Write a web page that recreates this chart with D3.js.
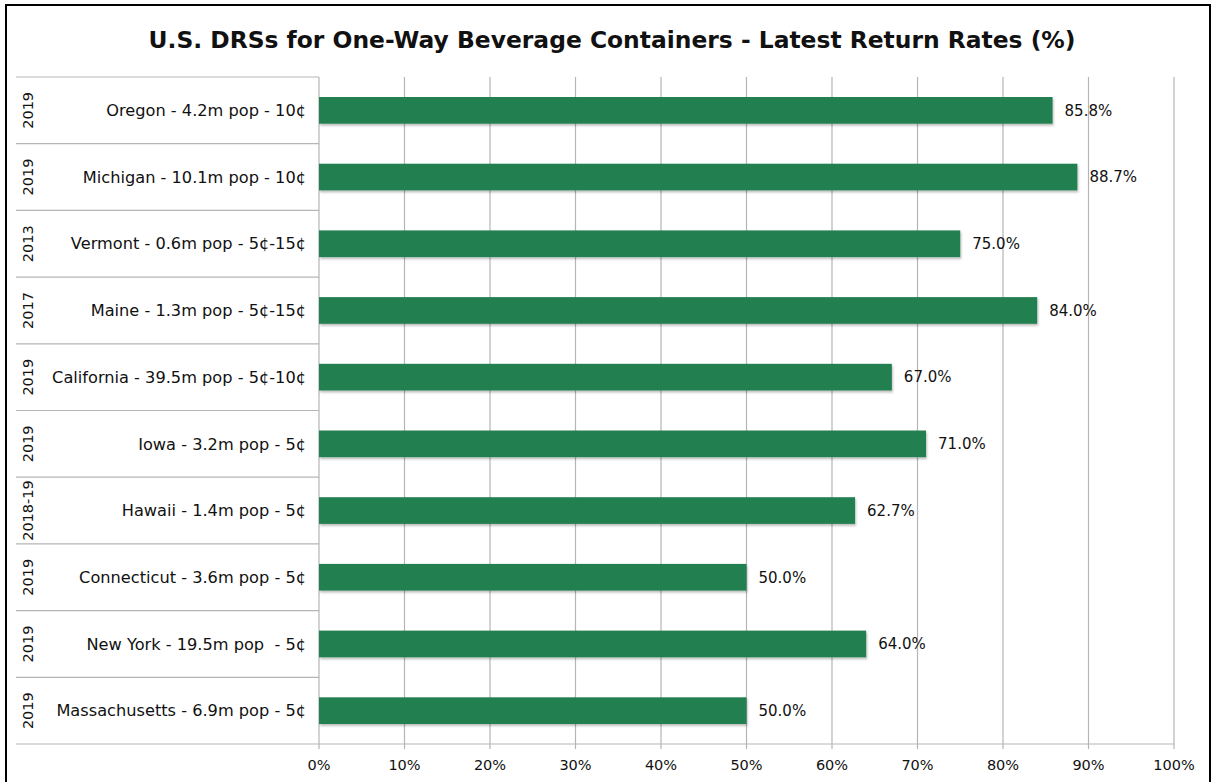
<!DOCTYPE html>
<html>
<head>
<meta charset="utf-8">
<script src="https://cdn.jsdelivr.net/npm/d3@7"></script>
<style>
  body { margin: 0; background: #fff; }
  svg text { font-family: "DejaVu Sans", "Open Sans", sans-serif; fill: #111; white-space: pre; }
</style>
</head>
<body>
<svg id="chart" width="1217" height="782"></svg>
<script>
// data
var states = [
  "Oregon - 4.2m pop - 10\u00a2",
  "Michigan - 10.1m pop - 10\u00a2",
  "Vermont - 0.6m pop - 5\u00a2-15\u00a2",
  "Maine - 1.3m pop - 5\u00a2-15\u00a2",
  "California - 39.5m pop - 5\u00a2-10\u00a2",
  "Iowa - 3.2m pop - 5\u00a2",
  "Hawaii - 1.4m pop - 5\u00a2",
  "Connecticut - 3.6m pop - 5\u00a2",
  "New York - 19.5m pop  - 5\u00a2",
  "Massachusetts - 6.9m pop - 5\u00a2"
];
var years = ["2019", "2019", "2013", "2017", "2019", "2019", "2018-19", "2019", "2019", "2019"];
var returnRates = [85.8, 88.7, 75.0, 84.0, 67.0, 71.0, 62.7, 50.0, 64.0, 50.0];
var tickValues = [0, 10, 20, 30, 40, 50, 60, 70, 80, 90, 100];

var svg = d3.select("#chart");
var barColor = "#237f4f";
var gridColor = "#b5b5b5";

// layout
var tableLeft = 16, plotLeft = 319, plotRight = 1174;
var plotTop = 77, plotBottom = 744;

// outer frame
svg.append("rect")
  .attr("x", 6).attr("y", 5)
  .attr("width", 1204).attr("height", 800)
  .attr("fill", "none").attr("stroke", "#000").attr("stroke-width", 2);

// title
svg.append("text")
  .attr("x", 612).attr("y", 48)
  .attr("text-anchor", "middle")
  .style("font-size", "23.4px").style("font-weight", "bold")
  .text("U.S. DRSs for One-Way Beverage Containers - Latest Return Rates (%)");

var x = d3.scaleLinear().domain([0, 100]).range([plotLeft, plotRight]);
var y = d3.scaleBand().domain(d3.range(states.length)).range([plotTop, plotBottom]).paddingInner(0).paddingOuter(0);
var barH = y.bandwidth() * 0.4;

// drop shadow for the bars
var defs = svg.append("defs");
var f = defs.append("filter").attr("id", "shadow").attr("x", "-5%").attr("y", "-20%").attr("width", "110%").attr("height", "160%");
f.append("feDropShadow").attr("dx", 1).attr("dy", 2).attr("stdDeviation", 1.2).attr("flood-color", "#000").attr("flood-opacity", 0.25);

// vertical gridlines
svg.append("g").selectAll("line")
  .data(tickValues)
  .join("line")
  .attr("x1", d => x(d)).attr("x2", d => x(d))
  .attr("y1", plotTop).attr("y2", plotBottom + 5)
  .attr("stroke", gridColor).attr("stroke-width", 1.2);

// row separators in the label table
svg.append("g").selectAll("line")
  .data(d3.range(states.length + 1))
  .join("line")
  .attr("x1", tableLeft).attr("x2", plotLeft)
  .attr("y1", i => i < states.length ? y(i) : plotBottom)
  .attr("y2", i => i < states.length ? y(i) : plotBottom)
  .attr("stroke", gridColor).attr("stroke-width", 1.2);

// bottom axis line
svg.append("line")
  .attr("x1", plotLeft).attr("x2", plotRight)
  .attr("y1", plotBottom).attr("y2", plotBottom)
  .attr("stroke", gridColor).attr("stroke-width", 1.2);

// bars
svg.append("g").selectAll("rect")
  .data(returnRates)
  .join("rect")
  .attr("x", x(0))
  .attr("y", (d, i) => y(i) + (y.bandwidth() - barH) / 2)
  .attr("width", d => x(d) - x(0))
  .attr("height", barH)
  .attr("fill", barColor)
  .attr("filter", "url(#shadow)");

// value labels
svg.append("g").selectAll("text")
  .data(returnRates)
  .join("text")
  .attr("x", d => x(d) + 12)
  .attr("y", (d, i) => y(i) + y.bandwidth() / 2)
  .attr("dy", "0.35em")
  .style("font-size", "15px")
  .text(d => d.toFixed(1) + "%");

// category labels
svg.append("g").selectAll("text")
  .data(states)
  .join("text")
  .attr("x", plotLeft - 13)
  .attr("y", (d, i) => y(i) + y.bandwidth() / 2)
  .attr("dy", "0.35em")
  .attr("text-anchor", "end")
  .style("font-size", "16.2px")
  .text(d => d);

// years, rotated
svg.append("g").selectAll("text")
  .data(years)
  .join("text")
  .attr("transform", (d, i) => "translate(28," + (y(i) + y.bandwidth() / 2) + ") rotate(-90)")
  .attr("dy", "0.35em")
  .attr("text-anchor", "middle")
  .style("font-size", "14.5px")
  .text(d => d);

// tick labels
svg.append("g").selectAll("text")
  .data(tickValues)
  .join("text")
  .attr("x", d => x(d))
  .attr("y", 765)
  .attr("dy", "0.35em")
  .attr("text-anchor", "middle")
  .style("font-size", "14.5px")
  .text(d => d + "%");
</script>
</body>
</html>
